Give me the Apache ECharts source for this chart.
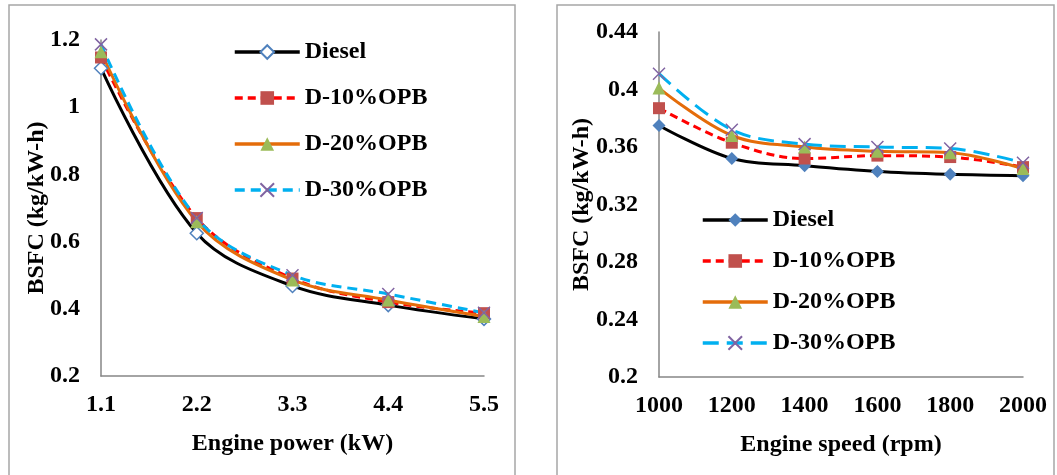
<!DOCTYPE html>
<html>
<head>
<meta charset="utf-8">
<script src="https://cdn.jsdelivr.net/npm/echarts@6/dist/echarts.min.js"></script>
<style>
  html, body { margin: 0; padding: 0; background: #fff; }
  #main { width: 1057px; height: 475px; }
</style>
</head>
<body>
<div id="main"></div>
<script>
// left panel: BSFC vs engine power
const powerCats = ['1.1', '2.2', '3.3', '4.4', '5.5'];
const powerDiesel = [1.116, 0.625, 0.468, 0.411, 0.370];
const powerD10 = [1.148, 0.670, 0.490, 0.420, 0.387];
const powerD20 = [1.165, 0.659, 0.486, 0.426, 0.377];
const powerD30 = [1.187, 0.670, 0.500, 0.444, 0.388];

// right panel: BSFC vs engine speed
const speedCats = ['1000', '1200', '1400', '1600', '1800', '2000'];
const speedDiesel = [0.375, 0.352, 0.347, 0.343, 0.341, 0.340];
const speedD10 = [0.387, 0.363, 0.352, 0.354, 0.353, 0.346];
const speedD20 = [0.401, 0.368, 0.360, 0.357, 0.356, 0.345];
const speedD30 = [0.411, 0.372, 0.362, 0.360, 0.359, 0.349];

const names = ['Diesel', 'D-10%OPB', 'D-20%OPB', 'D-30%OPB'];
const SUFFIX = ' (rpm)';

var font = 'Liberation Serif';
var txt = { color: '#000', fontFamily: font, fontWeight: 'bold', fontSize: 24 };
var crossPath = 'path://M0,0L10,10M10,0L0,10';

function mkSeries(name, data, idx, kind, right) {
    var s = {
        name: right ? name + SUFFIX : name,
        type: 'line',
        xAxisIndex: idx,
        yAxisIndex: idx,
        data: data,
        smooth: 0.35,
        symbolSize: 12,
        showAllSymbol: true,
        animation: false
    };
    if (kind === 0) {
        s.lineStyle = { color: '#000', width: 3 };
        s.symbol = 'diamond';
        s.symbolSize = 13;
        if (right) {
            s.itemStyle = { color: '#4F81BD' };
        } else {
            s.itemStyle = { color: '#fff', borderColor: '#4F81BD', borderWidth: 1.5 };
        }
    } else if (kind === 1) {
        s.lineStyle = { color: '#FF0000', width: 3, type: [8, 5] };
        s.symbol = 'rect';
        s.itemStyle = { color: '#C0504D' };
    } else if (kind === 2) {
        s.lineStyle = { color: '#E46C0A', width: 3 };
        s.symbol = 'triangle';
        s.symbolSize = 13;
        s.itemStyle = { color: '#9BBB59' };
    } else {
        s.lineStyle = { color: '#00B0F0', width: 3, type: right ? [16, 8] : [10, 6] };
        s.symbol = crossPath;
        s.itemStyle = { color: '#8064A2', borderColor: '#8064A2', borderWidth: 1.5 };
    }
    return s;
}

var axisLine = { show: true, lineStyle: { color: '#868686', width: 1.5 } };

var myChart = echarts.init(document.getElementById('main'));
var option = {
    backgroundColor: '#fff',
    animation: false,
    graphic: [
        { type: 'rect', shape: { x: 9, y: 5, width: 506, height: 490 },
          style: { fill: 'none', stroke: '#A6A6A6', lineWidth: 1.5 }, silent: true },
        { type: 'rect', shape: { x: 557, y: 5, width: 497, height: 490 },
          style: { fill: 'none', stroke: '#A6A6A6', lineWidth: 1.5 }, silent: true }
    ],
    grid: [
        { left: 101, right: 573, top: 40, bottom: 99 },
        { left: 659, right: 34, top: 32, bottom: 98 }
    ],
    legend: [
        {
            orient: 'vertical', left: 228, top: 35,
            itemWidth: 65, itemHeight: 17, itemGap: 22,
            lineStyle: { width: 3.5 },
            textStyle: txt,
            data: names
        },
        {
            orient: 'vertical', left: 696, top: 203,
            itemWidth: 65, itemHeight: 17, itemGap: 17,
            lineStyle: { width: 3.5 },
            textStyle: txt,
            data: names.map(function (n) { return n + SUFFIX; }),
            formatter: function (n) { return n.replace(SUFFIX, ''); }
        }
    ],
    xAxis: [
        {
            gridIndex: 0, type: 'category', data: powerCats, boundaryGap: false,
            axisLine: axisLine, axisTick: { show: false },
            axisLabel: Object.assign({ margin: 17 }, txt),
            name: 'Engine power (kW)', nameLocation: 'middle', nameGap: 56,
            nameMoveOverlap: false,
            nameTextStyle: txt
        },
        {
            gridIndex: 1, type: 'category', data: speedCats, boundaryGap: false,
            axisLine: axisLine, axisTick: { show: false },
            axisLabel: Object.assign({ margin: 17 }, txt),
            name: 'Engine speed (rpm)', nameLocation: 'middle', nameGap: 56,
            nameMoveOverlap: false,
            nameTextStyle: txt
        }
    ],
    yAxis: [
        {
            gridIndex: 0, type: 'value', min: 0.2, max: 1.2, interval: 0.2,
            axisLine: axisLine, axisTick: { show: false }, splitLine: { show: false },
            axisLabel: Object.assign({ margin: 21 }, txt),
            name: 'BSFC (kg/kW-h)', nameLocation: 'middle', nameGap: 52,
            nameMoveOverlap: false,
            nameTextStyle: txt
        },
        {
            gridIndex: 1, type: 'value', min: 0.2, max: 0.44, interval: 0.04,
            axisLine: axisLine, axisTick: { show: false }, splitLine: { show: false },
            axisLabel: Object.assign({ margin: 21 }, txt),
            name: 'BSFC (kg/kW-h)', nameLocation: 'middle', nameGap: 65,
            nameMoveOverlap: false,
            nameTextStyle: txt
        }
    ],
    series: [
        mkSeries(names[0], powerDiesel, 0, 0, false),
        mkSeries(names[1], powerD10, 0, 1, false),
        mkSeries(names[2], powerD20, 0, 2, false),
        mkSeries(names[3], powerD30, 0, 3, false),
        mkSeries(names[0], speedDiesel, 1, 0, true),
        mkSeries(names[1], speedD10, 1, 1, true),
        mkSeries(names[2], speedD20, 1, 2, true),
        mkSeries(names[3], speedD30, 1, 3, true)
    ]
};
myChart.setOption(option);
</script>
</body>
</html>
